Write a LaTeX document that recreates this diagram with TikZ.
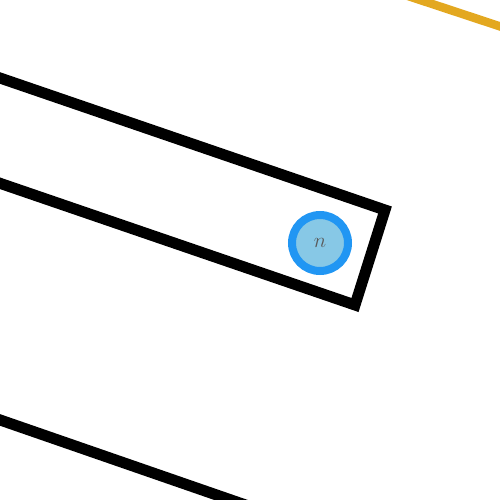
\documentclass[tikz,border=0pt]{standalone}
\usepackage{tikz}
\definecolor{barblue}{RGB}{33,150,243}
\definecolor{barfill}{RGB}{135,200,230}
\definecolor{railgold}{RGB}{227,168,32}

\begin{document}
\begin{tikzpicture}[
    x=0.2mm, y=-0.2mm,
    edge/.style  ={draw=black, line width=2.2mm, line join=miter},
    rail/.style  ={draw=railgold, line width=1.7mm},
    joint/.style ={circle, draw=barblue, line width=1.6mm, fill=barfill,
                   minimum size=11.2mm, inner sep=0pt,
                   text=black!65, font=\large},
]
\useasboundingbox (0,0) rectangle (500,500);
\clip (0,0) rectangle (500,500);

% --- bar outline ---
\coordinate (barNW) at (-77,51.6);
\coordinate (barNE) at (385,210);
\coordinate (barSE) at (355,305);
\coordinate (barSW) at (-107,146.6);
\draw[edge] (barNW) -- (barNE) -- (barSE) -- (barSW);

% --- lower edge ---
\coordinate (lowA) at (-20,413);
\coordinate (lowB) at (260,510);
\draw[edge] (lowA) -- (lowB);

% --- gold rail, top right ---
\coordinate (railA) at (405,-5);
\coordinate (railB) at (520,33);
\draw[rail] (railA) -- (railB);

% --- joint ---
\node[joint] (jointn) at (320,243) {$n$};

\end{tikzpicture}
\end{document}
